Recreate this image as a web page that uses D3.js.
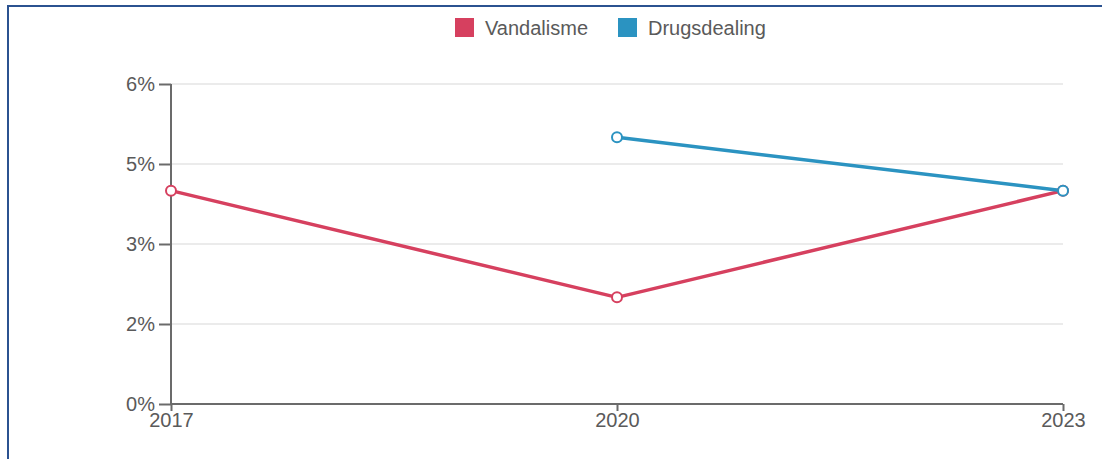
<!DOCTYPE html>
<html><head><meta charset="utf-8">
<script src="https://cdn.jsdelivr.net/npm/d3@7"></script>
<style>
html,body{margin:0;padding:0;background:#fff;}
svg{display:block;font-family:"Liberation Sans",Arial,sans-serif;}
</style></head>
<body>
<svg id="chart" width="1102" height="459"></svg>
<script>
const years = ["2017", "2020", "2023"];
const vandalisme = [4, 2, 4];
const drugsdealing = [null, 5, 4];
const seriesNames = ["Vandalisme", "Drugsdealing"];
const seriesColors = ["#d6405f", "#2b93c1"];
const yTickValues = [0, 1.5, 3, 4.5, 6];
const yTickLabels = ["0%", "2%", "3%", "5%", "6%"];

const svg = d3.select("#chart");
const W = 1102, H = 459;
const m = {left: 171, right: 1063, top: 84, bottom: 404};

// frame
svg.append("rect").attr("x", 8).attr("y", 6).attr("width", 1200).attr("height", 600)
  .attr("fill", "none").attr("stroke", "#2b5290").attr("stroke-width", 2);

const x = d3.scalePoint().domain(years).range([m.left, m.right]);
const y = d3.scaleLinear().domain([0, 6]).range([m.bottom, m.top]);

// grid
svg.append("g").selectAll("line").data(yTickValues.filter(d => d > 0)).join("line")
  .attr("x1", m.left).attr("x2", m.right)
  .attr("y1", d => y(d)).attr("y2", d => y(d))
  .attr("stroke", "#ebebeb").attr("stroke-width", 2);

// y axis
const yAxis = svg.append("g").attr("transform", `translate(${m.left},0)`)
  .call(d3.axisLeft(y).tickValues(yTickValues).tickFormat((d, i) => yTickLabels[i]).tickSize(12).tickPadding(4));
// x axis
const xAxis = svg.append("g").attr("transform", `translate(0,${m.bottom})`)
  .call(d3.axisBottom(x).tickSize(7).tickPadding(2));

[yAxis, xAxis].forEach(g => {
  g.select(".domain").attr("stroke", "#6b6b6b").attr("stroke-width", 2);
  g.selectAll(".tick line").attr("stroke", "#6b6b6b").attr("stroke-width", 2);
  g.selectAll("text").attr("fill", "#5a5a5a").style("font-size", "20px")
    .style("font-family", "'Liberation Sans', Arial, sans-serif");
});
yAxis.select(".domain").attr("d", `M0,${m.top}V${m.bottom}`);
xAxis.select(".domain").attr("d", `M${m.left},0H${m.right}`);
yAxis.selectAll(".tick line").attr("x1", -12).attr("x2", 0);

// lines
const data = [vandalisme, drugsdealing];
const line = d3.line().defined(d => d.v != null).x(d => x(d.k)).y(d => y(d.v));
data.forEach((vals, i) => {
  const pts = years.map((k, j) => ({k, v: vals[j]}));
  svg.append("path").datum(pts).attr("d", line)
    .attr("fill", "none").attr("stroke", seriesColors[i]).attr("stroke-width", 3.5)
    .attr("stroke-linejoin", "round");
});
data.forEach((vals, i) => {
  const pts = years.map((k, j) => ({k, v: vals[j]})).filter(d => d.v != null);
  svg.append("g").selectAll("circle").data(pts).join("circle")
    .attr("cx", d => x(d.k)).attr("cy", d => y(d.v)).attr("r", 5)
    .attr("fill", "#fff").attr("stroke", seriesColors[i]).attr("stroke-width", 2);
});

// legend
const legendX = [455, 618];
const lg = svg.append("g");
seriesNames.forEach((n, i) => {
  lg.append("rect").attr("x", legendX[i]).attr("y", 18).attr("width", 19).attr("height", 19)
    .attr("fill", seriesColors[i]);
  lg.append("text").attr("x", legendX[i] + 30).attr("y", 35).text(n)
    .attr("fill", "#5a5a5a").style("font-size", "20px");
});
</script>
</body></html>
